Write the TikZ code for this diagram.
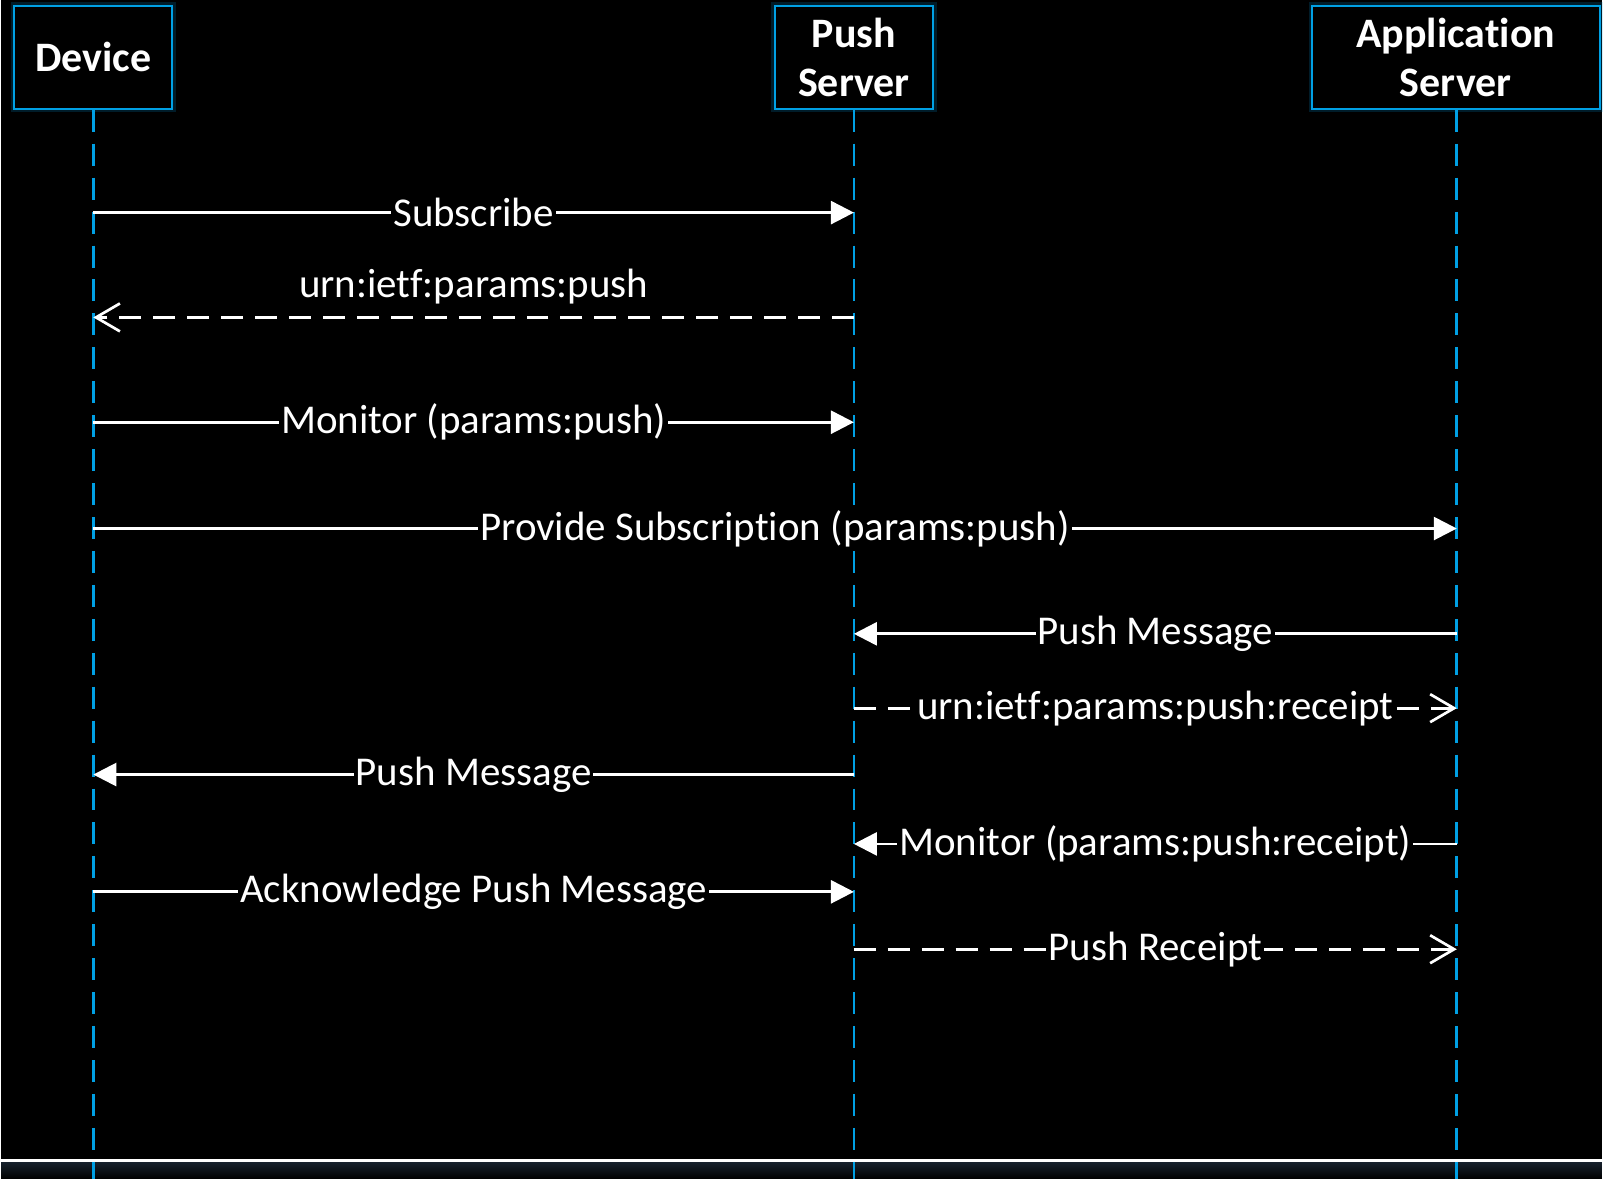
\documentclass[tikz,border=0pt]{standalone}
\usepackage{fontspec}
\setmainfont[Ligatures={NoCommon}]{Carlito}
\usetikzlibrary{arrows.meta}

\definecolor{lifeblue}{RGB}{0,160,228}
\definecolor{floorgray}{RGB}{24,34,46}

\begin{document}
\begin{tikzpicture}[x=0.5pt,y=-0.5pt,
    actor/.style={draw=lifeblue,line width=1pt,fill=black,text=white,
        preaction={draw=lifeblue,line width=3.5pt,draw opacity=0.18},
        font=\bfseries\fontsize{21}{24.5}\selectfont,align=center,
        inner sep=0pt,minimum height=51.5pt},
    lifeline/.style={lifeblue,line width=1.3pt,dash pattern=on 11pt off 6pt},
    msg/.style={white,line width=1.35pt,-{Triangle[length=11.5pt,width=11.5pt]}},
    reply/.style={white,line width=1.35pt,dash pattern=on 11pt off 6pt,
        -{Straight Barb[length=12pt,width=14pt,line width=1.35pt]}},
    lbl/.style={fill=black,text=white,font=\fontsize{20.5}{23}\selectfont,inner sep=1pt}]
    % Background and floor line
    \fill[black] (0,0) rectangle (1603,1181);
    \shade[top color=floorgray,bottom color=black] (0,1164) rectangle (1603,1181);
    \draw[white,line width=1.5pt] (0,1163) -- (1603,1163);
    \coordinate (floor) at (0,1181);

    % Participants
    \node[actor,minimum width=79pt] (dev) at (92,57.5) {Device};
    \node[actor,minimum width=79.5pt] (push) at (854,57.5) {Push\\Server};
    \node[actor,minimum width=144pt] (app) at (1457,57.5) {Application\\Server};

    % Lifelines
    \draw[lifeline] (dev.south) -- (dev.south |- floor);
    \draw[lifeline] (push.south) -- (push.south |- floor);
    \draw[lifeline] ([xshift=0.5pt]app.south) -- ([xshift=0.5pt]app.south |- floor);

    % Message rows
    \coordinate (r1) at (0,213);
    \coordinate (r2) at (0,318);
    \coordinate (r3) at (0,423);
    \coordinate (r4) at (0,529.5);
    \coordinate (r5) at (0,635);
    \coordinate (r6) at (0,709.5);
    \coordinate (r7) at (0,776);
    \coordinate (r8) at (0,845.5);
    \coordinate (r9) at (0,893.5);
    \coordinate (r10) at (0,951);

    % Messages
    \draw[msg] (dev |- r1) -- node[lbl] {Subscribe} (push |- r1);
    \draw[reply] (push |- r2) -- node[lbl,above=5pt] {urn:ietf:params:push} (dev |- r2);
    \draw[msg] (dev |- r3) -- node[lbl] {Monitor (params:push)} (push |- r3);
    \draw[msg] (dev |- r4) -- node[lbl] {Provide Subscription (params:push)} ([xshift=0.5pt]app |- r4);
    \draw[msg] ([xshift=0.5pt]app |- r5) -- node[lbl] {Push Message} (push |- r5);
    \draw[reply] (push |- r6) -- node[lbl] {urn:ietf:params:push:receipt} ([xshift=0.5pt]app |- r6);
    \draw[msg] (push |- r7) -- node[lbl] {Push Message} (dev |- r7);
    \draw[msg] ([xshift=0.5pt]app |- r8) -- node[lbl] {Monitor (params:push:receipt)} (push |- r8);
    \draw[msg] (dev |- r9) -- node[lbl] {Acknowledge Push Message} (push |- r9);
    \draw[reply] (push |- r10) -- node[lbl] {Push Receipt} ([xshift=0.5pt]app |- r10);
\end{tikzpicture}
\end{document}
